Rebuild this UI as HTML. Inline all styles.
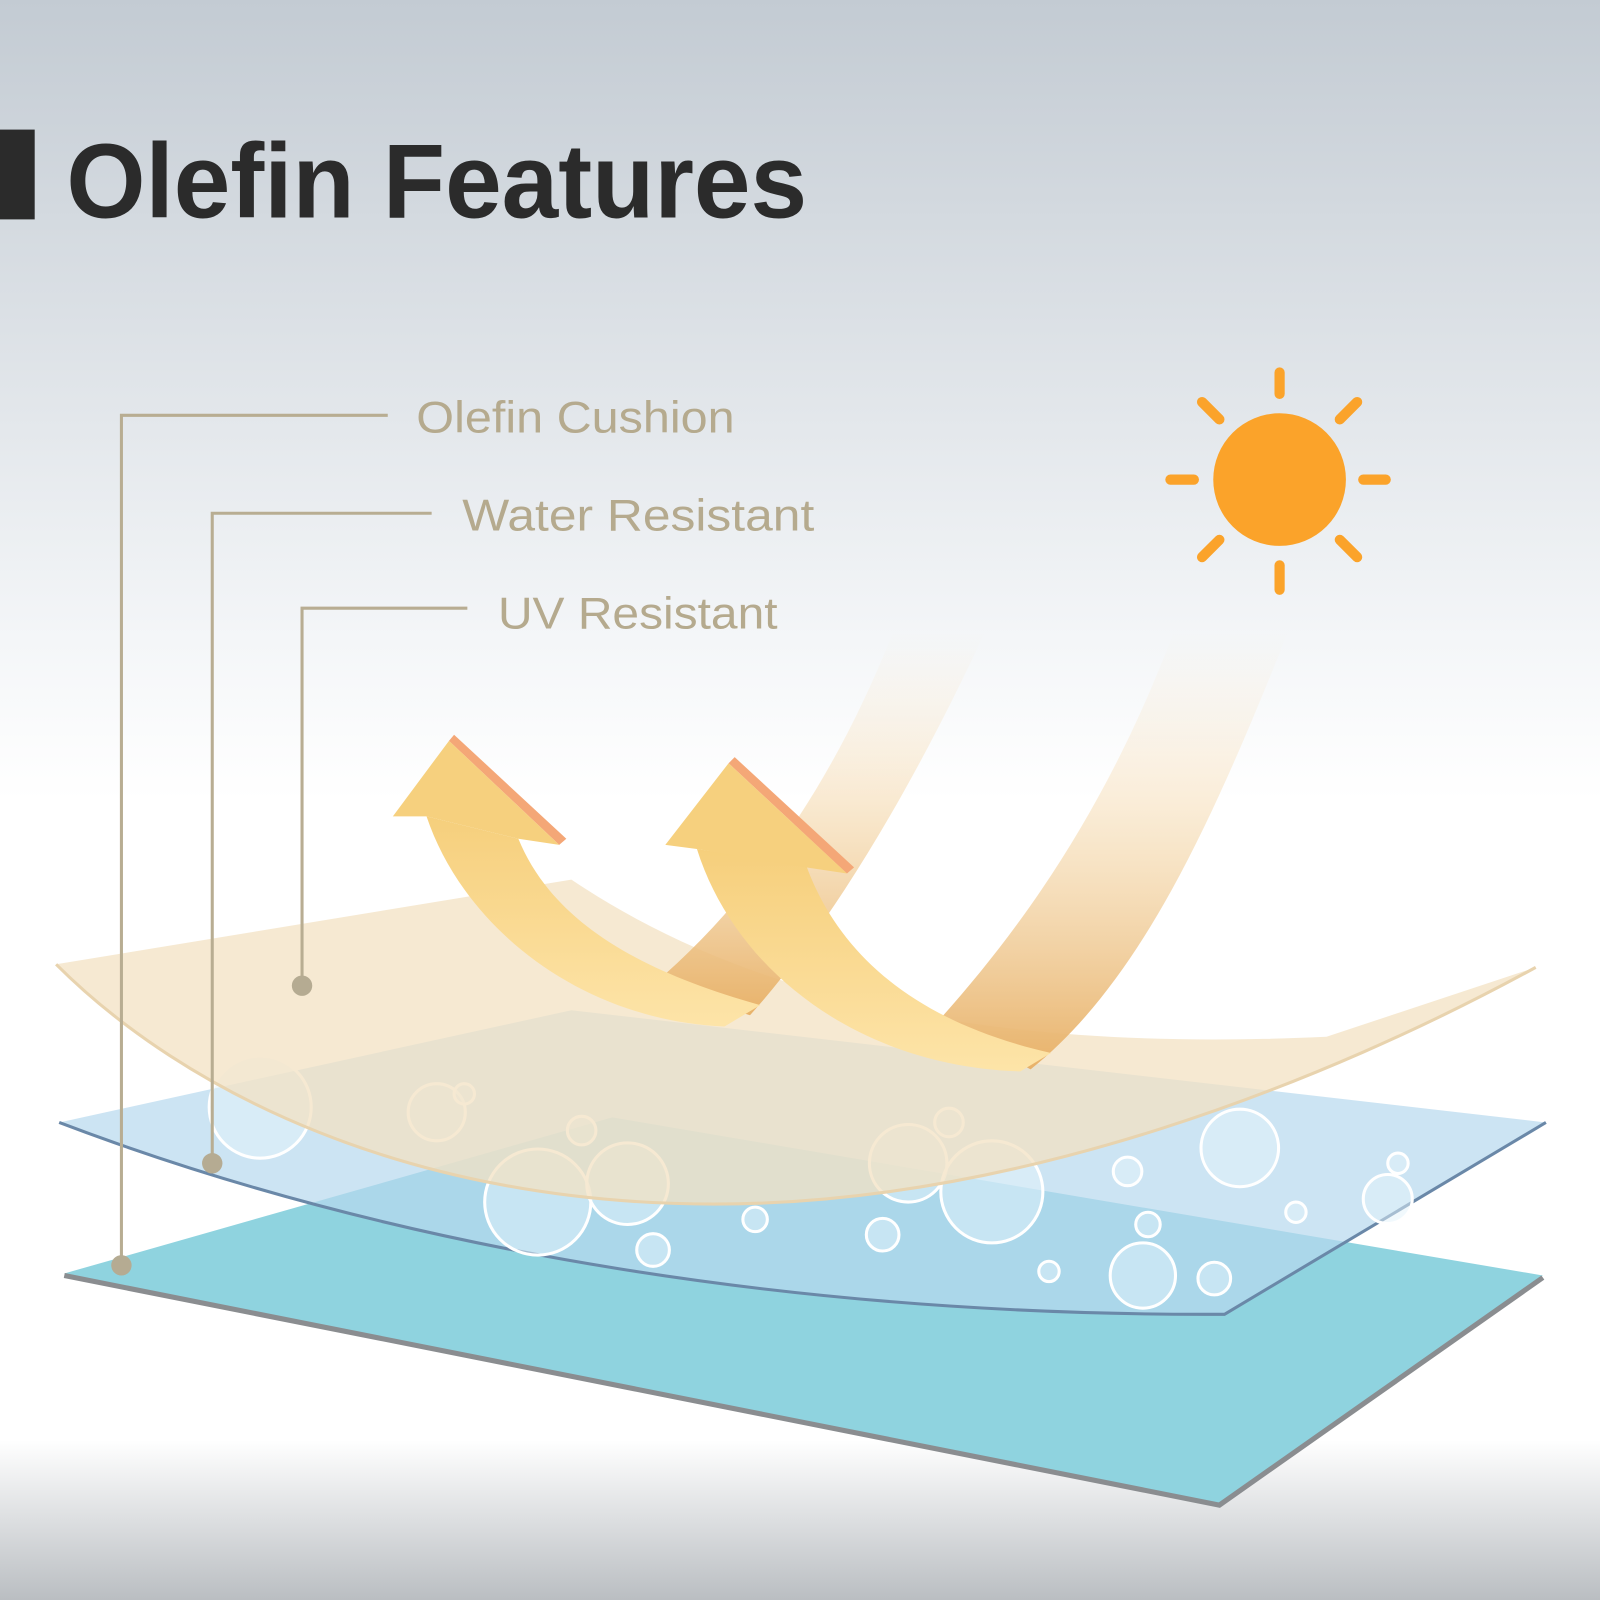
<!DOCTYPE html>
<html><head><meta charset="utf-8"><style>html,body{margin:0;padding:0}body{width:1600px;height:1600px;overflow:hidden}</style></head><body>
<svg width="1600" height="1600" viewBox="0 0 1568 1568" xmlns="http://www.w3.org/2000/svg">
<defs>
<linearGradient id="bg" x1="0" y1="0" x2="0" y2="1">
<stop offset="0" stop-color="#c3cbd3"/><stop offset="0.4" stop-color="#f4f6f8"/><stop offset="0.5" stop-color="#fff"/><stop offset="0.9" stop-color="#fff"/><stop offset="1" stop-color="#babec2"/></linearGradient>
<linearGradient id="fade" x1="0" y1="0" x2="0" y2="1">
<stop offset="0" stop-color="#f8e4c4" stop-opacity="0"/><stop offset="0.5" stop-color="#f3d4a4" stop-opacity="0.6"/><stop offset="1" stop-color="#e8b26a"/></linearGradient>
<linearGradient id="arr" x1="0" y1="0" x2="0" y2="1">
<stop offset="0" stop-color="#f6cf7c"/><stop offset="1" stop-color="#fde4a8"/></linearGradient>
</defs>
<rect width="1568" height="1568" fill="url(#bg)"/>
<rect x="0" y="127" width="34" height="88" fill="#2b2b2b"/>
<text x="65" y="213" font-family="Liberation Sans, sans-serif" font-weight="bold" font-size="104" fill="#2b2b2b" textLength="726" lengthAdjust="spacingAndGlyphs">Olefin Features</text>
<g font-family="Liberation Sans, sans-serif" font-size="44" fill="#b5aa8e">
<text x="408" y="424" textLength="312" lengthAdjust="spacingAndGlyphs">Olefin Cushion</text>
<text x="453" y="520" textLength="345" lengthAdjust="spacingAndGlyphs">Water Resistant</text>
<text x="488" y="616" textLength="274" lengthAdjust="spacingAndGlyphs">UV Resistant</text>
</g>
<polygon points="63,1248 600,1095 1512,1250 1195,1475" fill="#8fd3df"/>
<polyline points="63,1250 1195,1475 1512,1252" fill="none" stroke="#8a8d90" stroke-width="5"/>
<path d="M58,1100 L560,990 L1515,1100 L1200,1288 C800,1290 400,1230 58,1100 Z" fill="#b7d9ee" fill-opacity="0.7"/>
<path d="M58,1100 C400,1230 800,1290 1200,1288 L1515,1100" fill="none" stroke="#6a88a8" stroke-width="3"/>
<g fill="#e4f3fb" fill-opacity="0.5" stroke="#fff" stroke-width="3">
<circle cx="255" cy="1085" r="50"/><circle cx="428" cy="1090" r="28"/><circle cx="527" cy="1178" r="52"/><circle cx="615" cy="1160" r="40"/><circle cx="890" cy="1140" r="38"/><circle cx="972" cy="1168" r="50"/><circle cx="1120" cy="1250" r="32"/><circle cx="1215" cy="1125" r="38"/><circle cx="1360" cy="1175" r="24"/><circle cx="640" cy="1225" r="16"/><circle cx="865" cy="1210" r="16"/><circle cx="1105" cy="1148" r="14"/><circle cx="1190" cy="1253" r="16"/><circle cx="1028" cy="1246" r="10"/><circle cx="740" cy="1195" r="12"/><circle cx="570" cy="1108" r="14"/><circle cx="1270" cy="1188" r="10"/><circle cx="1370" cy="1140" r="10"/><circle cx="455" cy="1072" r="10"/><circle cx="930" cy="1100" r="14"/><circle cx="1125" cy="1200" r="12"/>
</g>
<path d="M55,945 L560,862 C750,990 1000,1030 1300,1016 L1505,948 C1300,1060 1000,1180 700,1180 C400,1180 180,1070 55,945 Z" fill="#f3e1c3" fill-opacity="0.75"/>
<path d="M55,945 C180,1070 400,1180 700,1180 C1000,1180 1300,1060 1505,948" fill="none" stroke="#e8d3ae" stroke-width="3"/>
<path d="M875,620 L965,620 C900,760 820,900 735,995 L640,965 C740,880 820,760 875,620 Z" fill="url(#fade)"/>
<path d="M1150,620 L1262,620 C1190,800 1120,960 1010,1048 L920,1000 C1010,900 1090,780 1150,620 Z" fill="url(#fade)"/>
<path d="M418,800 C455,910 570,1000 710,1006 L745,985 C620,950 540,900 508,822 Z" fill="url(#arr)"/>
<polygon points="445,720 555,822 548,828 440,726" fill="#f4a777"/>
<polygon points="385,800 440,726 548,828 508,822 418,800" fill="#f6d07e"/>
<path d="M683,832 C720,950 840,1045 1000,1050 L1030,1032 C890,1000 820,930 790,848 Z" fill="url(#arr)"/>
<polygon points="720,742 837,850 830,856 714,748" fill="#f4a777"/>
<polygon points="652,828 714,748 830,856 790,850 683,832" fill="#f6d07e"/>
<g fill="none" stroke="#b8ad92" stroke-width="3">
<polyline points="380,407 119,407 119,1240"/>
<polyline points="423,503 208,503 208,1140"/>
<polyline points="458,596 296,596 296,966"/>
</g>
<g fill="#b5ab92"><circle cx="119" cy="1240" r="10"/><circle cx="208" cy="1140" r="10"/><circle cx="296" cy="966" r="10"/></g>
<g fill="#fba32a"><circle cx="1254" cy="470" r="65"/></g>
<g stroke="#fba32a" stroke-width="10" stroke-linecap="round">
<line x1="1254" y1="365" x2="1254" y2="386"/><line x1="1254" y1="554" x2="1254" y2="578"/>
<line x1="1147" y1="470" x2="1170" y2="470"/><line x1="1336" y1="470" x2="1358" y2="470"/>
<line x1="1178" y1="394" x2="1195" y2="411"/><line x1="1313" y1="529" x2="1330" y2="546"/>
<line x1="1330" y1="394" x2="1313" y2="411"/><line x1="1195" y1="529" x2="1178" y2="546"/>
</g>
</svg>
</body></html>
